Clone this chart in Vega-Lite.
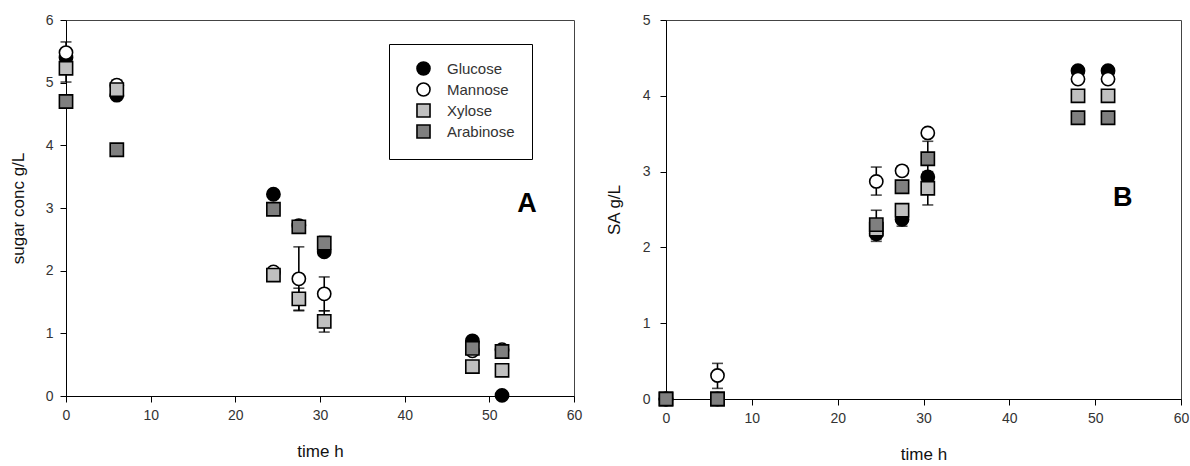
{
  "$schema": "https://vega.github.io/schema/vega-lite/v6.json",
  "padding": {"left": 8, "top": 12, "right": 0, "bottom": 0},
  "spacing": 21,
  "background": "#ffffff",
  "config": {
    "font": "Liberation Sans",
    "view": {"stroke": "#444444", "strokeWidth": 1},
    "axis": {
      "grid": false,
      "domainColor": "#000000",
      "tickColor": "#000000",
      "labelColor": "#333333",
      "labelFontSize": 14,
      "labelFont": "Liberation Sans",
      "titleFont": "Liberation Sans",
      "titleFontSize": 17,
      "titleFontWeight": "normal",
      "titleColor": "#111111",
      "tickSize": 6,
      "format": "d"
    },
    "axisX": {"labelPadding": 6, "titlePadding": 21, "labelFlush": false},
    "axisY": {"labelPadding": 7, "titlePadding": 18}
  },
  "datasets": {
    "pts": [
      {"panel": "A", "time": 0, "sugar": "Glucose", "value": 5.40, "lo": null, "hi": null},
      {"panel": "A", "time": 6, "sugar": "Glucose", "value": 4.80, "lo": null, "hi": null},
      {"panel": "A", "time": 24.5, "sugar": "Glucose", "value": 3.22, "lo": null, "hi": null},
      {"panel": "A", "time": 27.5, "sugar": "Glucose", "value": 2.72, "lo": null, "hi": null},
      {"panel": "A", "time": 30.5, "sugar": "Glucose", "value": 2.30, "lo": null, "hi": null},
      {"panel": "A", "time": 48, "sugar": "Glucose", "value": 0.88, "lo": null, "hi": null},
      {"panel": "A", "time": 51.5, "sugar": "Glucose", "value": 0.01, "lo": null, "hi": null},
      {"panel": "A", "time": 0, "sugar": "Mannose", "value": 5.48, "lo": 5.31, "hi": 5.65},
      {"panel": "A", "time": 6, "sugar": "Mannose", "value": 4.96, "lo": 4.88, "hi": 5.04},
      {"panel": "A", "time": 24.5, "sugar": "Mannose", "value": 1.98, "lo": null, "hi": null},
      {"panel": "A", "time": 27.5, "sugar": "Mannose", "value": 1.87, "lo": 1.36, "hi": 2.38},
      {"panel": "A", "time": 30.5, "sugar": "Mannose", "value": 1.63, "lo": 1.36, "hi": 1.90},
      {"panel": "A", "time": 48, "sugar": "Mannose", "value": 0.72, "lo": null, "hi": null},
      {"panel": "A", "time": 51.5, "sugar": "Mannose", "value": 0.74, "lo": null, "hi": null},
      {"panel": "A", "time": 0, "sugar": "Xylose", "value": 5.23, "lo": 5.01, "hi": 5.45},
      {"panel": "A", "time": 6, "sugar": "Xylose", "value": 4.89, "lo": null, "hi": null},
      {"panel": "A", "time": 24.5, "sugar": "Xylose", "value": 1.93, "lo": null, "hi": null},
      {"panel": "A", "time": 27.5, "sugar": "Xylose", "value": 1.55, "lo": 1.37, "hi": 1.72},
      {"panel": "A", "time": 30.5, "sugar": "Xylose", "value": 1.19, "lo": 1.02, "hi": 1.36},
      {"panel": "A", "time": 48, "sugar": "Xylose", "value": 0.47, "lo": null, "hi": null},
      {"panel": "A", "time": 51.5, "sugar": "Xylose", "value": 0.41, "lo": null, "hi": null},
      {"panel": "A", "time": 0, "sugar": "Arabinose", "value": 4.70, "lo": null, "hi": null},
      {"panel": "A", "time": 6, "sugar": "Arabinose", "value": 3.93, "lo": null, "hi": null},
      {"panel": "A", "time": 24.5, "sugar": "Arabinose", "value": 2.98, "lo": null, "hi": null},
      {"panel": "A", "time": 27.5, "sugar": "Arabinose", "value": 2.70, "lo": 2.62, "hi": 2.78},
      {"panel": "A", "time": 30.5, "sugar": "Arabinose", "value": 2.44, "lo": 2.33, "hi": 2.55},
      {"panel": "A", "time": 48, "sugar": "Arabinose", "value": 0.76, "lo": null, "hi": null},
      {"panel": "A", "time": 51.5, "sugar": "Arabinose", "value": 0.71, "lo": null, "hi": null},

      {"panel": "B", "time": 0, "sugar": "Glucose", "value": 0, "lo": null, "hi": null},
      {"panel": "B", "time": 6, "sugar": "Glucose", "value": 0, "lo": null, "hi": null},
      {"panel": "B", "time": 24.5, "sugar": "Glucose", "value": 2.18, "lo": 2.08, "hi": 2.28},
      {"panel": "B", "time": 27.5, "sugar": "Glucose", "value": 2.37, "lo": 2.28, "hi": 2.46},
      {"panel": "B", "time": 30.5, "sugar": "Glucose", "value": 2.93, "lo": null, "hi": null},
      {"panel": "B", "time": 48, "sugar": "Glucose", "value": 4.33, "lo": null, "hi": null},
      {"panel": "B", "time": 51.5, "sugar": "Glucose", "value": 4.33, "lo": null, "hi": null},
      {"panel": "B", "time": 0, "sugar": "Mannose", "value": 0, "lo": null, "hi": null},
      {"panel": "B", "time": 6, "sugar": "Mannose", "value": 0.31, "lo": 0.14, "hi": 0.47},
      {"panel": "B", "time": 24.5, "sugar": "Mannose", "value": 2.87, "lo": 2.69, "hi": 3.06},
      {"panel": "B", "time": 27.5, "sugar": "Mannose", "value": 3.01, "lo": 2.95, "hi": 3.07},
      {"panel": "B", "time": 30.5, "sugar": "Mannose", "value": 3.51, "lo": null, "hi": null},
      {"panel": "B", "time": 48, "sugar": "Mannose", "value": 4.22, "lo": null, "hi": null},
      {"panel": "B", "time": 51.5, "sugar": "Mannose", "value": 4.22, "lo": null, "hi": null},
      {"panel": "B", "time": 0, "sugar": "Xylose", "value": 0, "lo": null, "hi": null},
      {"panel": "B", "time": 6, "sugar": "Xylose", "value": 0, "lo": null, "hi": null},
      {"panel": "B", "time": 24.5, "sugar": "Xylose", "value": 2.24, "lo": null, "hi": null},
      {"panel": "B", "time": 27.5, "sugar": "Xylose", "value": 2.49, "lo": null, "hi": null},
      {"panel": "B", "time": 30.5, "sugar": "Xylose", "value": 2.78, "lo": 2.56, "hi": 3.00},
      {"panel": "B", "time": 48, "sugar": "Xylose", "value": 4.00, "lo": null, "hi": null},
      {"panel": "B", "time": 51.5, "sugar": "Xylose", "value": 4.00, "lo": null, "hi": null},
      {"panel": "B", "time": 0, "sugar": "Arabinose", "value": 0, "lo": null, "hi": null},
      {"panel": "B", "time": 6, "sugar": "Arabinose", "value": 0, "lo": null, "hi": null},
      {"panel": "B", "time": 24.5, "sugar": "Arabinose", "value": 2.30, "lo": 2.11, "hi": 2.49},
      {"panel": "B", "time": 27.5, "sugar": "Arabinose", "value": 2.80, "lo": null, "hi": null},
      {"panel": "B", "time": 30.5, "sugar": "Arabinose", "value": 3.17, "lo": 2.94, "hi": 3.40},
      {"panel": "B", "time": 48, "sugar": "Arabinose", "value": 3.71, "lo": null, "hi": null},
      {"panel": "B", "time": 51.5, "sugar": "Arabinose", "value": 3.71, "lo": null, "hi": null}
    ],
    "lab": [
      {"panel": "A", "x": 54.45, "y": 3.07, "t": "A"},
      {"panel": "B", "x": 53.2, "y": 2.65, "t": "B"}
    ]
  },
  "hconcat": [
    {
      "width": 508,
      "height": 376,
      "layer": [
        {
          "data": {"name": "pts"},
          "transform": [{"filter": "datum.panel === 'A' && datum.lo != null"}],
          "mark": {"type": "errorbar", "color": "#000000", "rule": {"strokeWidth": 1.6}, "ticks": {"size": 11, "thickness": 1.6, "color": "#000000"}},
          "encoding": {
            "x": {"field": "time", "type": "quantitative", "title": "time h", "scale": {"domain": [0, 60], "nice": false}, "axis": {"values": [0, 10, 20, 30, 40, 50, 60]}},
            "y": {"field": "lo", "type": "quantitative", "title": "sugar conc g/L", "scale": {"domain": [0, 6], "nice": false}, "axis": {"values": [0, 1, 2, 3, 4, 5, 6]}},
            "y2": {"field": "hi"}
          }
        },
        {
          "data": {"name": "pts"},
          "transform": [{"filter": "datum.panel === 'A'"}],
          "mark": {"type": "point", "filled": true, "strokeWidth": 1.6, "size": 175, "opacity": 1},
          "encoding": {
            "x": {"field": "time", "type": "quantitative", "title": "time h"},
            "y": {"field": "value", "type": "quantitative", "title": "sugar conc g/L"},
            "fill": {
              "field": "sugar", "type": "nominal",
              "scale": {"domain": ["Glucose", "Mannose", "Xylose", "Arabinose"], "range": ["#000000", "#ffffff", "#c0c0c0", "#7f7f7f"]},
              "legend": {"orient": "none", "legendX": 323, "legendY": 24, "title": null, "padding": 17, "strokeColor": "#000000", "fillColor": "#ffffff", "labelFontSize": 15, "labelColor": "#333333", "labelFont": "Liberation Sans", "symbolSize": 170, "symbolStrokeWidth": 1.6, "rowPadding": 0, "labelOffset": 16, "symbolOffset": 10}
            },
            "stroke": {
              "field": "sugar", "type": "nominal",
              "scale": {"domain": ["Glucose", "Mannose", "Xylose", "Arabinose"], "range": ["#000000", "#000000", "#000000", "#000000"]},
              "legend": {"orient": "none", "legendX": 323, "legendY": 24, "title": null, "padding": 17, "strokeColor": "#000000", "fillColor": "#ffffff", "labelFontSize": 15, "labelColor": "#333333", "labelFont": "Liberation Sans", "symbolSize": 170, "symbolStrokeWidth": 1.6, "rowPadding": 0, "labelOffset": 16, "symbolOffset": 10}
            },
            "shape": {
              "field": "sugar", "type": "nominal",
              "scale": {"domain": ["Glucose", "Mannose", "Xylose", "Arabinose"], "range": ["circle", "circle", "square", "square"]},
              "legend": {"orient": "none", "legendX": 323, "legendY": 24, "title": null, "padding": 17, "strokeColor": "#000000", "fillColor": "#ffffff", "labelFontSize": 15, "labelColor": "#333333", "labelFont": "Liberation Sans", "symbolSize": 170, "symbolStrokeWidth": 1.6, "rowPadding": 0, "labelOffset": 16, "symbolOffset": 10}
            }
          }
        },
        {
          "data": {"name": "lab"},
          "transform": [{"filter": "datum.panel === 'A'"}],
          "mark": {"type": "text", "fontSize": 27, "fontWeight": "bold", "font": "Liberation Sans", "color": "#000000", "align": "center", "baseline": "middle"},
          "encoding": {
            "x": {"field": "x", "type": "quantitative"},
            "y": {"field": "y", "type": "quantitative"},
            "text": {"field": "t"}
          }
        }
      ]
    },
    {
      "width": 515,
      "height": 379,
      "layer": [
        {
          "data": {"name": "pts"},
          "transform": [{"filter": "datum.panel === 'B' && datum.lo != null"}],
          "mark": {"type": "errorbar", "color": "#000000", "rule": {"strokeWidth": 1.6}, "ticks": {"size": 11, "thickness": 1.6, "color": "#000000"}},
          "encoding": {
            "x": {"field": "time", "type": "quantitative", "title": "time h", "scale": {"domain": [0, 60], "nice": false}, "axis": {"values": [0, 10, 20, 30, 40, 50, 60]}},
            "y": {"field": "lo", "type": "quantitative", "title": "SA g/L", "scale": {"domain": [0, 5], "nice": false}, "axis": {"values": [0, 1, 2, 3, 4, 5], "labelPadding": 10, "titlePadding": 19}},
            "y2": {"field": "hi"}
          }
        },
        {
          "data": {"name": "pts"},
          "transform": [{"filter": "datum.panel === 'B'"}],
          "mark": {"type": "point", "filled": true, "strokeWidth": 1.6, "size": 175, "opacity": 1},
          "encoding": {
            "x": {"field": "time", "type": "quantitative", "title": "time h"},
            "y": {"field": "value", "type": "quantitative", "title": "SA g/L"},
            "fill": {
              "field": "sugar", "type": "nominal",
              "scale": {"domain": ["Glucose", "Mannose", "Xylose", "Arabinose"], "range": ["#000000", "#ffffff", "#c0c0c0", "#7f7f7f"]},
              "legend": null
            },
            "stroke": {
              "field": "sugar", "type": "nominal",
              "scale": {"domain": ["Glucose", "Mannose", "Xylose", "Arabinose"], "range": ["#000000", "#000000", "#000000", "#000000"]},
              "legend": null
            },
            "shape": {
              "field": "sugar", "type": "nominal",
              "scale": {"domain": ["Glucose", "Mannose", "Xylose", "Arabinose"], "range": ["circle", "circle", "square", "square"]},
              "legend": null
            }
          }
        },
        {
          "data": {"name": "lab"},
          "transform": [{"filter": "datum.panel === 'B'"}],
          "mark": {"type": "text", "fontSize": 27, "fontWeight": "bold", "font": "Liberation Sans", "color": "#000000", "align": "center", "baseline": "middle"},
          "encoding": {
            "x": {"field": "x", "type": "quantitative"},
            "y": {"field": "y", "type": "quantitative"},
            "text": {"field": "t"}
          }
        }
      ]
    }
  ],
  "resolve": {
    "scale": {"fill": "independent", "shape": "independent", "stroke": "independent"},
    "legend": {"fill": "independent", "shape": "independent", "stroke": "independent"}
  }
}
